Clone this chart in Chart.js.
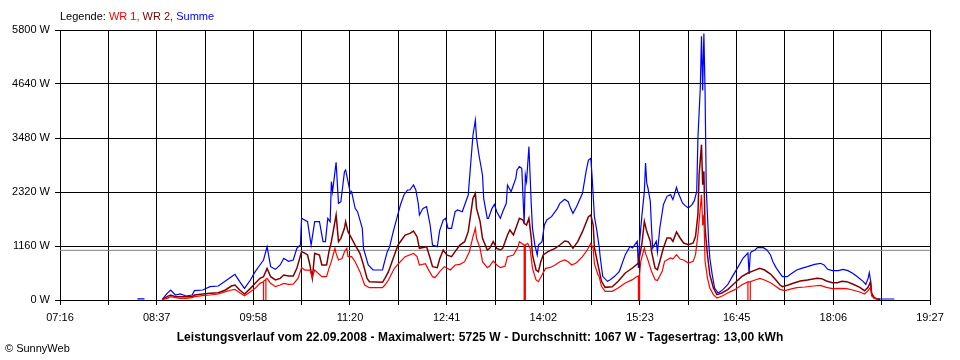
<!DOCTYPE html>
<html>
<head>
<meta charset="utf-8">
<title>Leistungsverlauf 22.09.2008</title>
<script src="https://cdn.jsdelivr.net/npm/chart.js@4.4.1/dist/chart.umd.min.js"></script>
<style>
    body { margin: 0; background: #fff; }
    #wrap { position: relative; width: 960px; height: 360px; font-family: "Liberation Sans", Arial, sans-serif; font-size: 11px; color: #000; }
    #chart { display: block; }
    #legend { position: absolute; left: 60px; top: 10px; line-height: 13px; white-space: nowrap; }
    #title { position: absolute; left: 0; top: 330px; width: 960px; text-align: center; font-weight: bold; font-size: 12px; letter-spacing: 0.1px; line-height: 14px; white-space: nowrap; }
    #copy { position: absolute; left: 5px; top: 342px; line-height: 13px; }
</style>
</head>
<body>
<div id="wrap">
    <canvas id="chart" width="960" height="360"></canvas>
    <div id="legend">Legende: <span style="color:#ff0000">WR 1,</span> <span style="color:#800000">WR 2,</span> <span style="color:#0000ff">Summe</span></div>
    <div id="title">Leistungsverlauf vom 22.09.2008 - Maximalwert: 5725 W - Durchschnitt: 1067 W - Tagesertrag: 13,00 kWh</div>
    <div id="copy">© SunnyWeb</div>
</div>
<script>
// ---- axis ----
const xTickLabels = ['07:16', '08:37', '09:58', '11:20', '12:41', '14:02', '15:23', '16:45', '18:06', '19:27'];
const yTickValues = [0, 1160, 2320, 3480, 4640, 5800];
const averageWatts = 1067;

// ---- WR 1 (red) ----
const wr1Times = `
08:42 08:46 08:49 08:53 08:57 09:02 09:07 09:09 09:16 09:22
09:29 09:35 09:40 09:43 09:47 09:51 09:56 10:00 10:04 10:06
10:07 10:07 10:07 10:09 10:09 10:09 10:10 10:13 10:17 10:21
10:24 10:28 10:32 10:36 10:39 10:42 10:46 10:48 10:50 10:56
11:00 11:02 11:04 11:07 11:08 11:10 11:13 11:15 11:17 11:18
11:21 11:24 11:28 11:32 11:36 11:47 11:49 11:52 11:57 12:02
12:06 12:13 12:16 12:18 12:23 12:25 12:29 12:31 12:34 12:35
12:39 12:44 12:48 12:52 12:56 13:00 13:03 13:05 13:06 13:09
13:11 13:15 13:17 13:20 13:23 13:26 13:30 13:32 13:37 13:41
13:42 13:45 13:46 13:46 13:46 13:47 13:47 13:47 13:49 13:51
13:53 13:56 13:58 14:01 14:04 14:08 14:12 14:16 14:20 14:23
14:26 14:30 14:35 14:39 14:42 14:44 14:45 14:48 14:49 14:51
14:54 15:00 15:05 15:11 15:17 15:21 15:22 15:22 15:22 15:23
15:23 15:23 15:24 15:27 15:28 15:30 15:33 15:36 15:38 15:42
15:44 15:49 15:51 15:54 15:57 16:00 16:04 16:08 16:10 16:12
16:13 16:15 16:16 16:17 16:18 16:20 16:22 16:25 16:28 16:32
16:37 16:43 16:49 16:54 16:54 16:54 16:56 16:56 16:56 17:00
17:04 17:08 17:13 17:17 17:21 17:25 17:29 17:35 17:42 17:49
17:55 18:00 18:05 18:11 18:17 18:22 18:28 18:32 18:35 18:37
18:38 18:40 18:43`.trim().split(/\s+/);
const wr1Watts = [
    10, 36, 72, 50, 36, 36, 50, 72, 93, 107,
    129, 179, 215, 229, 158, 93, 179, 250, 358, 380,
    390, 0, 400, 440, 0, 450, 465, 358, 286, 322,
    358, 337, 340, 465, 695, 640, 640, 487, 644, 501,
    501, 680, 823, 1110, 1000, 859, 890, 1038, 1110, 931,
    931, 823, 609, 322, 265, 265, 322, 430, 680, 823,
    931, 1002, 931, 752, 780, 680, 501, 480, 570, 609,
    716, 644, 752, 766, 823, 1038, 1360, 1539, 1325, 1110,
    823, 695, 730, 838, 752, 695, 730, 931, 967, 1146,
    1253, 1200, 1190, 0, 1180, 1170, 0, 1180, 1217, 1110,
    680, 430, 394, 537, 680, 700, 752, 823, 859, 823,
    752, 800, 931, 1074, 1217, 1110, 780, 544, 501, 294,
    186, 186, 258, 365, 437, 508, 510, 0, 520, 530,
    0, 560, 831, 1117, 1000, 859, 616, 437, 420, 616,
    831, 902, 880, 974, 880, 859, 795, 830, 974, 1403,
    1690, 2263, 1600, 1833, 831, 473, 258, 115, 43, 79,
    150, 222, 329, 390, 0, 390, 394, 0, 394, 430,
    465, 430, 372, 301, 229, 200, 229, 265, 279, 301,
    315, 272, 243, 250, 243, 215, 172, 129, 200, 272,
    86, 36, 14
];

// ---- WR 2 (dark red) ----
const wr2Times = `
08:42 08:46 08:49 08:53 08:57 09:02 09:07 09:09 09:16 09:22
09:29 09:35 09:40 09:43 09:47 09:51 09:56 10:00 10:04 10:07
10:10 10:13 10:17 10:21 10:24 10:28 10:32 10:35 10:39 10:42
10:44 10:46 10:48 10:50 10:54 10:56 11:00 11:02 11:04 11:05
11:08 11:10 11:12 11:15 11:16 11:18 11:21 11:24 11:28 11:31
11:34 11:36 11:47 11:49 11:52 11:56 12:00 12:03 12:06 12:10
12:13 12:16 12:18 12:24 12:27 12:29 12:33 12:35 12:38 12:41
12:45 12:48 12:52 12:56 12:59 13:01 13:03 13:05 13:06 13:09
13:11 13:15 13:17 13:20 13:23 13:26 13:28 13:32 13:34 13:37
13:40 13:42 13:45 13:46 13:48 13:50 13:52 13:53 13:56 13:58
14:00 14:02 14:06 14:12 14:16 14:20 14:23 14:27 14:31 14:35
14:40 14:42 14:44 14:45 14:48 14:51 14:54 15:00 15:05 15:11
15:17 15:22 15:25 15:27 15:29 15:32 15:33 15:36 15:38 15:40
15:43 15:46 15:49 15:51 15:54 15:57 16:00 16:04 16:08 16:10
16:12 16:13 16:15 16:16 16:17 16:18 16:20 16:22 16:25 16:28
16:32 16:37 16:43 16:49 16:54 16:59 17:04 17:08 17:13 17:17
17:21 17:23 17:28 17:32 17:38 17:44 17:52 17:56 18:00 18:05
18:09 18:13 18:17 18:22 18:28 18:32 18:35 18:37 18:38 18:40
18:42 18:45`.trim().split(/\s+/);
const wr2Watts = [
    15, 72, 107, 72, 72, 72, 72, 107, 129, 143,
    158, 215, 300, 322, 215, 129, 250, 358, 465, 501,
    680, 501, 430, 465, 537, 515, 515, 680, 1038, 1000,
    967, 752, 465, 1002, 967, 752, 752, 1038, 1253, 1396,
    1826, 1253, 1325, 1539, 1683, 1468, 1325, 1181, 1002, 752,
    465, 394, 380, 465, 609, 895, 1181, 1289, 1396, 1432,
    1482, 1360, 1110, 1146, 895, 716, 695, 880, 1074, 967,
    931, 1038, 1181, 1253, 1468, 1826, 2184, 2291, 1969, 1683,
    1325, 1074, 1110, 1253, 1110, 1074, 1110, 1396, 1504, 1396,
    1611, 1754, 1718, 1647, 1611, 1754, 1325, 967, 644, 609,
    823, 967, 1038, 1110, 1181, 1267, 1253, 1110, 1253, 1468,
    1790, 1826, 1611, 1130, 759, 401, 272, 286, 401, 580,
    687, 795, 1224, 1690, 1475, 1260, 1045, 687, 650, 831,
    1117, 1332, 1332, 1260, 1461, 1332, 1224, 1189, 1224, 1368,
    1833, 2692, 3337, 2477, 2764, 1547, 974, 544, 258, 115,
    150, 222, 365, 508, 580, 630, 680, 644, 558, 444,
    322, 286, 322, 358, 408, 430, 465, 458, 408, 372,
    372, 401, 394, 344, 272, 200, 272, 394, 143, 57,
    29, 14
];

// ---- Summe (blue) ----
const sumTimes = `
08:21 08:27 08:35 08:42 08:46 08:49 08:53 08:57 09:02 09:07
09:09 09:16 09:22 09:29 09:35 09:40 09:43 09:47 09:51 09:56
10:00 10:04 10:07 10:10 10:13 10:17 10:21 10:24 10:28 10:32
10:35 10:38 10:39 10:44 10:47 10:50 10:54 10:57 10:59 11:01
11:03 11:04 11:05 11:08 11:10 11:12 11:15 11:16 11:20 11:21
11:24 11:26 11:30 11:31 11:35 11:39 11:47 11:48 11:51 11:53
11:56 11:59 12:02 12:05 12:08 12:10 12:13 12:15 12:17 12:18
12:21 12:24 12:27 12:29 12:33 12:35 12:38 12:40 12:42 12:45
12:48 12:50 12:54 12:56 12:59 13:01 13:03 13:05 13:06 13:08
13:11 13:12 13:15 13:16 13:19 13:21 13:23 13:26 13:28 13:31
13:32 13:35 13:37 13:39 13:40 13:42 13:44 13:46 13:47 13:48
13:50 13:52 13:53 13:55 13:57 13:58 14:01 14:03 14:05 14:09
14:14 14:16 14:20 14:23 14:25 14:27 14:30 14:35 14:38 14:40
14:42 14:43 14:44 14:45 14:47 14:49 14:50 14:52 14:56 14:58
15:02 15:06 15:11 15:15 15:17 15:21 15:22 15:23 15:25 15:27
15:28 15:29 15:30 15:32 15:33 15:34 15:37 15:38 15:40 15:43
15:46 15:49 15:51 15:54 15:55 15:59 16:01 16:04 16:07 16:09
16:11 16:12 16:14 16:15 16:16 16:17 16:18 16:19 16:21 16:22
16:24 16:26 16:29 16:33 16:37 16:41 16:46 16:50 16:54 16:55
16:56 16:57 17:00 17:02 17:07 17:10 17:13 17:15 17:18 17:21
17:23 17:27 17:31 17:35 17:39 17:44 17:50 17:55 17:58 18:01
18:05 18:10 18:14 18:18 18:22 18:26 18:31 18:33 18:35 18:36
18:37 18:38 18:40 18:42 18:57`.trim().split(/\s+/);
const sumWatts = [
    25, 25, null, 15, 143, 215, 107, 129, 86, 107,
    200, 215, 286, 300, 408, 500, 551, 394, 250, 430,
    608, 752, 859, 1146, 716, 659, 752, 895, 830, 859,
    1110, 1181, 1754, 1683, 1181, 1683, 1683, 1253, 1253, 1754,
    1683, 2542, 2327, 2957, 2076, 2112, 2757, 2793, 2291, 2327,
    1969, 1897, 1539, 1110, 752, 644, 644, 752, 1038, 1146,
    1468, 1754, 2041, 2255, 2363, 2363, 2470, 2363, 2076, 1826,
    1969, 2005, 1611, 1181, 1146, 1490, 1718, 1754, 1539, 1539,
    1897, 1933, 1897, 2041, 2255, 2900, 3544, 3866, 3473, 3115,
    2685, 2184, 1754, 1754, 1969, 2055, 1897, 1754, 1897, 2076,
    2470, 2327, 2470, 2613, 2793, 2864, 2828, 1647, 2685, 2542,
    3294, 2041, 1539, 1181, 967, 1181, 1253, 1611, 1718, 1790,
    1969, 2076, 2162, 2112, 1969, 1862, 2005, 2291, 2757, 3007,
    3043, 2685, 2255, 1797, 1500, 1146, 902, 508, 401, 430,
    508, 616, 974, 1153, 1117, 1260, 687, 1260, 1833, 2334,
    2943, 2513, 2406, 2119, 1547, 1117, 1260, 1031, 1547, 2048,
    2227, 2263, 2155, 2420, 2334, 2084, 2033, 1976, 2048, 2134,
    2334, 3480, 4554, 5664, 4500, 5725, 4482, 2406, 1260, 902,
    544, 258, 150, 222, 329, 508, 723, 902, 1010, 560,
    1002, 1038, 1074, 1124, 1124, 1074, 967, 823, 680, 573,
    501, 501, 573, 644, 680, 716, 766, 788, 752, 659,
    630, 630, 659, 630, 573, 501, 394, 337, 465, 587,
    430, 107, 50, 21, 21
];

// ---- helpers ----
function toMinutes(hhmm) {
    const [h, m] = hhmm.split(':').map(Number);
    return h * 60 + m;
}

function toPoints(times, watts) {
    return times.map((t, i) => ({ x: toMinutes(t), y: watts[i] }));
}

const xMin = toMinutes(xTickLabels[0]);
const xMax = toMinutes(xTickLabels[xTickLabels.length - 1]);
const gridSteps = (xTickLabels.length - 1) * 2; // a grid line between every two labels

function lineSet(label, data, color, width) {
    return {
        label: label,
        data: data,
        borderColor: color,
        borderWidth: width,
        pointRadius: 0,
        tension: 0,
        fill: false
    };
}

Chart.defaults.font.family = '"Liberation Sans", Arial, sans-serif';
Chart.defaults.font.size = 11;
Chart.defaults.color = '#000';

new Chart(document.getElementById('chart'), {
    type: 'line',
    data: {
        datasets: [
            lineSet('WR 1', toPoints(wr1Times, wr1Watts), '#ff0000', 1.2),
            lineSet('WR 2', toPoints(wr2Times, wr2Watts), '#800000', 1.5),
            lineSet('Summe', toPoints(sumTimes, sumWatts), '#0000ff', 1.2),
            lineSet('Durchschnitt', [{ x: xMin, y: averageWatts }, { x: xMax, y: averageWatts }], '#808080', 1)
        ]
    },
    options: {
        responsive: false,
        animation: false,
        devicePixelRatio: 1,
        layout: { padding: { top: 30, right: 30, bottom: 0, left: 0 } },
        plugins: {
            legend: { display: false },
            tooltip: { enabled: false }
        },
        scales: {
            x: {
                type: 'linear',
                min: xMin,
                max: xMax,
                afterBuildTicks: scale => {
                    scale.ticks = Array.from({ length: gridSteps + 1 }, (_, i) => ({ value: xMin + (xMax - xMin) * i / gridSteps }));
                },
                afterFit: scale => { scale.height = 60; },
                grid: { color: '#000', lineWidth: 1, tickLength: 5, tickColor: '#000' },
                border: { color: '#000', width: 1 },
                ticks: {
                    autoSkip: false,
                    maxRotation: 0,
                    padding: 6,
                    color: '#000',
                    callback: (value, index) => index % 2 ? '' : xTickLabels[index / 2]
                }
            },
            y: {
                min: 0,
                max: yTickValues[yTickValues.length - 1],
                afterBuildTicks: scale => {
                    scale.ticks = yTickValues.map(v => ({ value: v }));
                },
                afterFit: scale => { scale.width = 60; },
                grid: { color: '#000', lineWidth: 1, tickLength: 5, tickColor: '#000' },
                border: { color: '#000', width: 1 },
                ticks: {
                    padding: 5,
                    color: '#000',
                    callback: v => v + ' W'
                }
            }
        }
    }
});
</script>
</body>
</html>
